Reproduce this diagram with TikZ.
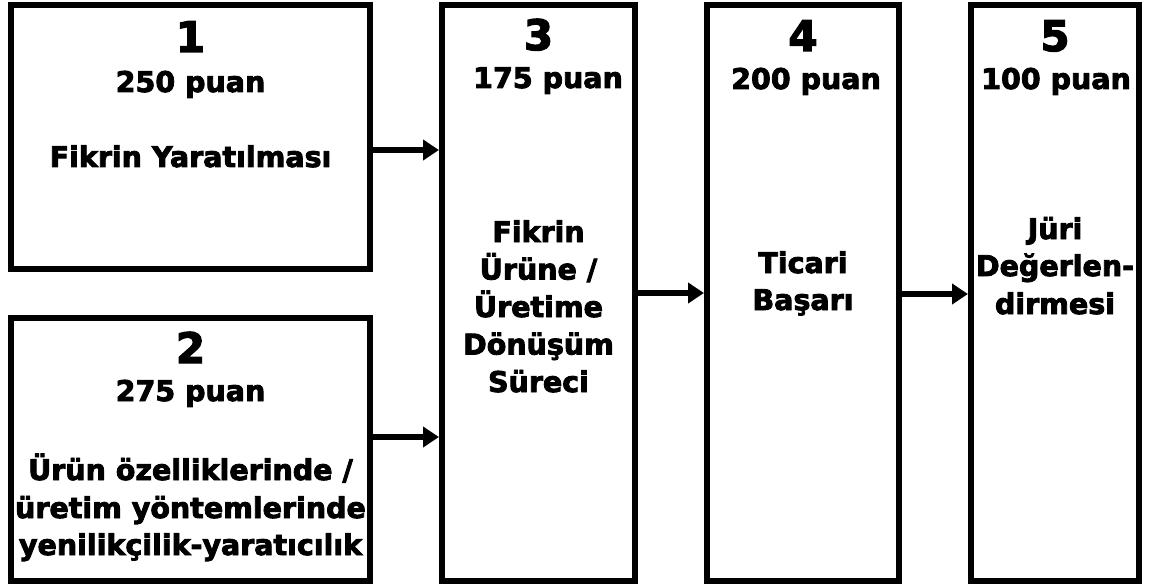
\documentclass[tikz,border=0pt]{standalone}
\usepackage{fontspec}
\setmainfont{DejaVu Sans}[BoldFeatures={FakeBold=3}]
\usetikzlibrary{arrows.meta}
\begin{document}
\begin{tikzpicture}[x=1pt,y=1pt,
  box/.style={draw=black,line width=6pt,inner sep=0pt,rectangle},
  txt/.style={anchor=base,inner sep=0pt,font=\bfseries\fontsize{28.5}{34}\selectfont},
  big/.style={anchor=base,inner sep=0pt,font=\bfseries\fontsize{42}{48}\selectfont},
  arr/.style={line width=6.5pt,-{Triangle[length=16pt,width=20pt]}}]
\useasboundingbox (0,0) rectangle (1156,-588);
% boxes
\node[box,minimum width=359pt,minimum height=263.5pt] (b1) at (190.5,-137.25) {};
\node[box,minimum width=359pt,minimum height=263pt] (b2) at (190.5,-449.5) {};
\node[box,minimum width=193pt,minimum height=576pt] (b3) at (538.5,-293) {};
\node[box,minimum width=192pt,minimum height=576pt] (b4) at (803,-293) {};
\node[box,minimum width=168pt,minimum height=576pt] (b5) at (1055,-293) {};
% box 1 text
\node[big] (n1) at (190.5,-52) {1};
\node[txt] (p1) at (190.5,-92) {250 puan};
\node[txt] (l1a) at (190.5,-167) {Fikrin Yaratılması};
% box 2 text
\node[big] (n2) at (190.5,-363) {2};
\node[txt] (p2) at (190.5,-401) {275 puan};
\node[txt] (l2a) at (190.5,-480) {Ürün özelliklerinde /};
\node[txt] (l2b) at (190.5,-518) {üretim yöntemlerinde};
\node[txt] (l2c) at (190.5,-555) {yenilikçilik-yaratıcılık};
% box 3 text
\node[big] (n3) at (538.5,-50) {3};
\node[txt] (p3) at (548,-88) {175 puan};
\node[txt] (l3a) at (538.5,-242) {Fikrin};
\node[txt] (l3b) at (538.5,-279.5) {Ürüne /};
\node[txt] (l3c) at (538.5,-317) {Üretime};
\node[txt] (l3d) at (538.5,-354.5) {Dönüşüm};
\node[txt] (l3e) at (538.5,-392) {Süreci};
% box 4 text
\node[big] (n4) at (803,-51) {4};
\node[txt] (p4) at (806,-89) {200 puan};
\node[txt] (l4a) at (803,-273) {Ticari};
\node[txt] (l4b) at (803,-310) {Başarı};
% box 5 text
\node[big] (n5) at (1055,-51) {5};
\node[txt] (p5) at (1056,-89) {100 puan};
\node[txt] (l5a) at (1055,-239) {Jüri};
\node[txt] (l5b) at (1055,-276) {Değerlen-};
\node[txt] (l5c) at (1055,-314) {dirmesi};
% arrows
\coordinate (y1) at (0,-150);
\coordinate (y2) at (0,-437);
\coordinate (y3) at (0,-293);
\coordinate (y4) at (0,-294);
\draw[arr] (b1.east |- y1) -- (b3.west |- y1);
\draw[arr] (b2.east |- y2) -- (b3.west |- y2);
\draw[arr] (b3.east |- y3) -- (b4.west |- y3);
\draw[arr] (b4.east |- y4) -- (b5.west |- y4);
\end{tikzpicture}
\end{document}
